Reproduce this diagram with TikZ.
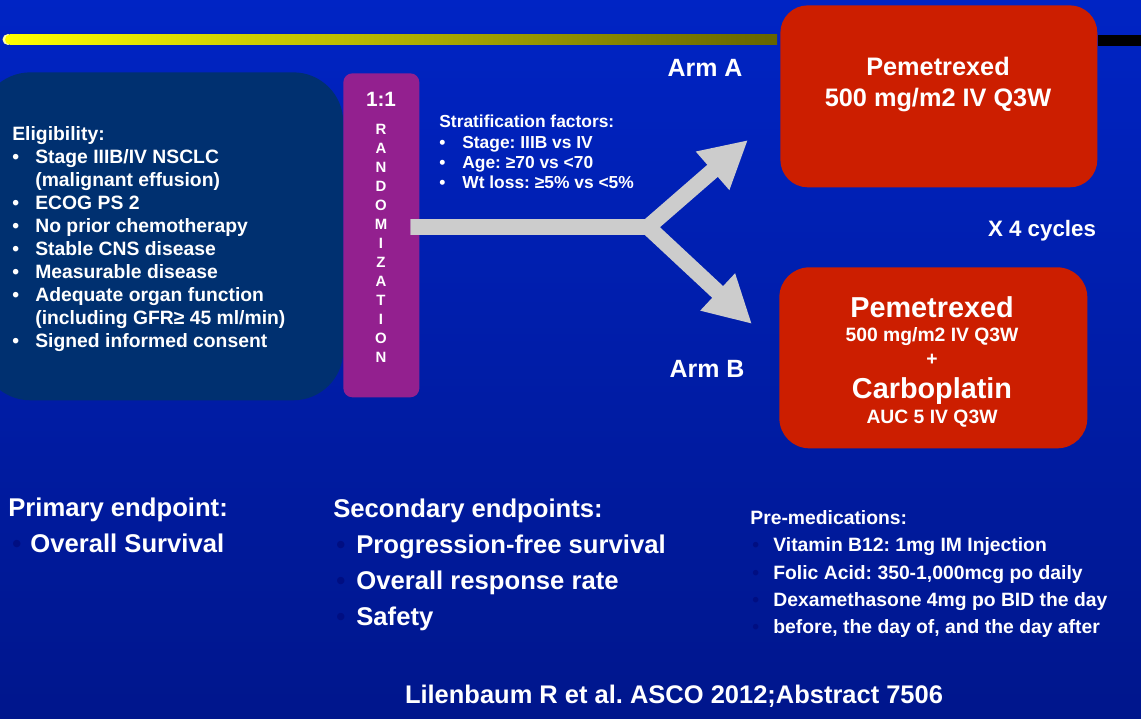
\documentclass[tikz,border=0pt]{standalone}
\usepackage{fontspec}
\setmainfont{Liberation Sans}
\usepackage{xcolor}
\usepackage{tikz}
\usetikzlibrary{arrows.meta,positioning}
\definecolor{slideBlue}{RGB}{0,36,196}
\definecolor{slideBlueDark}{RGB}{0,22,140}
\definecolor{eligNavy}{RGB}{0,48,112}
\definecolor{randPurple}{RGB}{147,32,143}
\definecolor{armRed}{RGB}{204,30,0}
\definecolor{arrowGray}{RGB}{204,204,204}
\definecolor{barYellow}{RGB}{255,255,0}
\definecolor{barOlive}{RGB}{100,100,0}
\definecolor{bulletBlue}{RGB}{0,14,130}
\newcommand{\slidefont}[2]{\fontsize{#1}{#2}\selectfont\bfseries}
\newcommand{\bul}[2][0.46cm]{\makebox[#1][l]{\textbullet}#2}
\newcommand{\dbul}[2][0.4cm]{\makebox[#1][l]{\color{bulletBlue}\textbullet}#2}
\frenchspacing

\begin{document}
\begin{tikzpicture}[x=0.02cm, y=-0.02cm, every node/.style={text=white, inner sep=0pt}]
\useasboundingbox (0,0) rectangle (1141,719);
\shade[top color=slideBlue, bottom color=slideBlueDark] (0,0) rectangle (1141,719);

% title rule
\fill[barYellow!35!white] (8,39.5) circle (0.11cm);
\fill[barYellow] (10,39.5) circle (0.1cm);
\shade[left color=barYellow, right color=barOlive] (10,34.5) rectangle (777,44.5);
\fill[black] (1098,35) rectangle (1141,46);

% boxes
\node[fill=eligNavy, rounded corners=1cm, minimum width=7.26cm, minimum height=6.56cm, anchor=north west] (elig) at (-20,72) {};
\node[fill=randPurple, rounded corners=0.18cm, minimum width=1.52cm, minimum height=6.48cm, anchor=north west] (rand) at (343,73) {};
\node[fill=armRed, rounded corners=0.55cm, minimum width=6.34cm, minimum height=3.64cm, anchor=north west] (armA) at (780,5) {};
\node[fill=armRed, rounded corners=0.6cm, minimum width=6.16cm, minimum height=3.62cm, anchor=north west] (armB) at (779,267) {};

% eligibility
\node[anchor=west, align=left, font={\slidefont{11}{13.1}}] (eligtext) at (12,239) {Eligibility:\\
\bul{Stage IIIB/IV NSCLC}\\
\hspace*{0.46cm}(malignant effusion)\\
\bul{ECOG PS 2}\\
\bul{No prior chemotherapy}\\
\bul{Stable CNS disease}\\
\bul{Measurable disease}\\
\bul{Adequate organ function}\\
\hspace*{0.46cm}(including GFR≥ 45 ml/min)\\
\bul{Signed informed consent}};

% randomization
\node[anchor=base, font={\slidefont{11.8}{14}}] (ratio) at (381,107) {1:1};
\node[align=center, font={\slidefont{8.5}{10.82}}] (randtext) at (381,243.5) {R\\A\\N\\D\\O\\M\\I\\Z\\A\\T\\I\\O\\N};

% stratification
\node[anchor=west, align=left, font={\slidefont{9.9}{11.5}}] (strat) at (439,152) {Stratification factors:\\
\bul[0.46cm]{Stage: IIIB vs IV}\\
\bul[0.46cm]{Age: ≥70 vs <70}\\
\bul[0.46cm]{Wt loss: ≥5\% vs <5\%}};

% arrows
\coordinate (split) at (648,227);
\coordinate[xshift=-0.18cm] (stem) at (rand.east |- split);
\coordinate (tipA) at (748,140);
\coordinate (tipB) at (752,324);
\draw[arrowGray, line width=0.32cm, -{Triangle[length=0.94cm, width=0.95cm]}] (stem) -- (split) -- (tipA);
\draw[arrowGray, line width=0.32cm, -{Triangle[length=0.94cm, width=0.95cm]}] (stem) -- (split) -- (tipB);

% arms
\node[anchor=base, font={\slidefont{14.2}{17}}] (labA) at (705,77) {Arm A};
\node[anchor=base, font={\slidefont{14.2}{17}}] (labB) at (707,377) {Arm B};
\node[align=center, font={\slidefont{14.4}{17.6}}] (armAtext) at (938,84.6) {Pemetrexed\\500 mg/m2 IV Q3W};
\node[anchor=base, font={\slidefont{16.4}{19}}] (pemB) at (932,317) {Pemetrexed};
\node[anchor=base, font={\slidefont{11}{13}}] (doseB) at (932,341) {500 mg/m2 IV Q3W};
\node[anchor=base, font={\slidefont{11}{13}}] (plus) at (932,365) {+};
\node[anchor=base, font={\slidefont{16.4}{19}}] (carbo) at (932,398) {Carboplatin};
\node[anchor=base, font={\slidefont{11}{13}}] (aucB) at (932,423) {AUC 5 IV Q3W};
\node[anchor=base, font={\slidefont{12.7}{15}}] (cycles) at (1042,236) {X 4 cycles};

% endpoints
\node[anchor=west, align=left, font={\slidefont{14.6}{20.4}}] (primary) at (8,525) {Primary endpoint:\\
\hspace*{0.08cm}\dbul[0.36cm]{Overall Survival}};
\node[anchor=west, align=left, font={\slidefont{14.6}{20.6}}] (secondary) at (333,565) {Secondary endpoints:\\
\hspace*{0.06cm}\dbul[0.4cm]{Progression-free survival}\\
\hspace*{0.06cm}\dbul[0.4cm]{Overall response rate}\\
\hspace*{0.06cm}\dbul[0.4cm]{Safety}};
\node[anchor=west, align=left, font={\slidefont{11}{15.6}}] (premed) at (750,574) {Pre-medications:\\
\hspace*{0.04cm}\dbul[0.42cm]{Vitamin B12: 1mg IM Injection}\\
\hspace*{0.04cm}\dbul[0.42cm]{Folic Acid: 350-1,000mcg po daily}\\
\hspace*{0.04cm}\dbul[0.42cm]{Dexamethasone 4mg po BID the day}\\
\hspace*{0.04cm}\dbul[0.42cm]{before, the day of, and the day after}};

\node[anchor=base, font={\slidefont{14.5}{17}}] (cite) at (674,703) {Lilenbaum R et al. ASCO 2012;Abstract 7506};
\end{tikzpicture}
\end{document}
